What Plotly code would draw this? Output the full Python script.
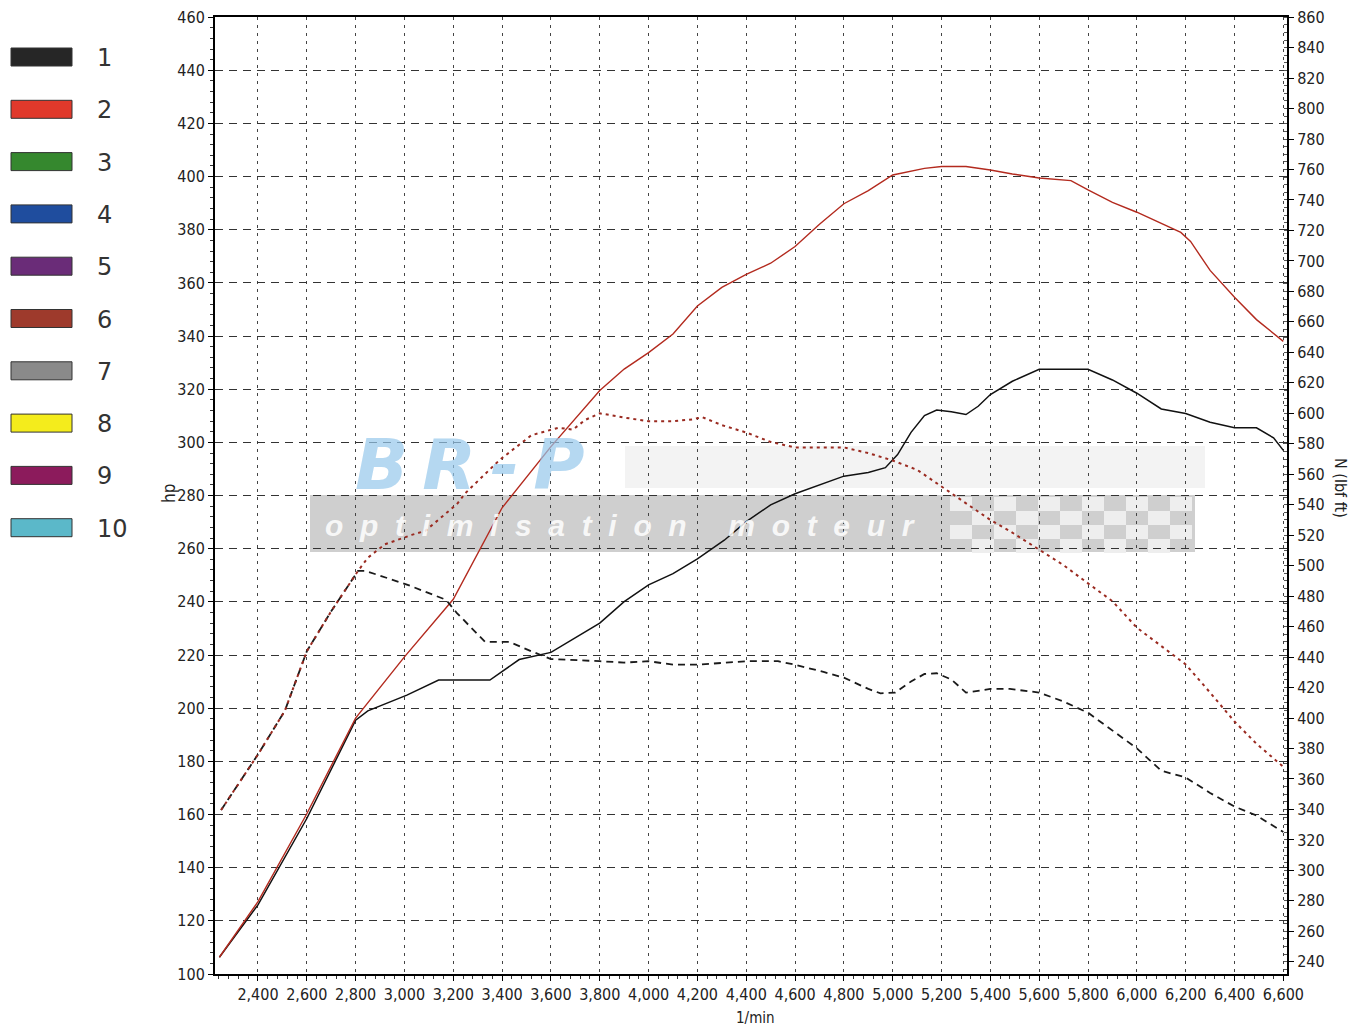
import plotly.graph_objects as go

# ---------------- data ----------------
rpm_hp_tuned = [2242, 2400, 2600, 2800, 3000, 3200, 3400, 3600, 3800, 3900, 4000, 4100, 4200, 4300, 4400,
                4500, 4600, 4700, 4800, 4900, 5000, 5130, 5200, 5300, 5400, 5490, 5600, 5730, 5800, 5900,
                6000, 6100, 6180, 6220, 6300, 6400, 6490, 6600]
hp_tuned = [106.3, 127.2, 160.3, 196.3, 219.3, 241.0, 275.4, 298.4, 319.5, 327.6, 333.8, 340.8, 351.3, 358.3, 363.2,
            367.4, 373.7, 382.1, 389.8, 394.7, 400.6, 403.1, 403.8, 403.8, 402.5, 401.0, 399.5, 398.5, 395.0, 390.3,
            386.6, 382.4, 379.0, 375.6, 364.7, 354.6, 346.2, 338.0]

rpm_hp_stock = [2242, 2400, 2600, 2800, 2850, 3010, 3140, 3350, 3470, 3600, 3800, 3900, 4000, 4100, 4200,
                4310, 4400, 4500, 4600, 4710, 4800, 4900, 4970, 5020, 5075, 5130, 5180, 5240, 5300, 5350,
                5400, 5490, 5600, 5800, 5900, 6000, 6100, 6200, 6300, 6400, 6490, 6560, 6600]
hp_stock = [106.3, 126.0, 158.5, 195.5, 199.0, 204.9, 210.6, 210.6, 218.3, 221.0, 232.0, 240.1, 246.4, 250.6, 256.2,
            263.2, 270.2, 276.5, 280.7, 284.2, 287.3, 288.7, 290.5, 295.4, 303.8, 310.1, 312.2, 311.5, 310.5, 313.6,
            318.0, 323.0, 327.5, 327.5, 323.5, 318.5, 312.6, 310.9, 307.6, 305.5, 305.5, 301.7, 297.0]

rpm_tq_stock = [2249, 2400, 2510, 2600, 2700, 2810, 2840, 3010, 3170, 3215, 3330, 3430, 3520, 3600, 3800,
                3900, 4000, 4100, 4200, 4310, 4400, 4530, 4600, 4720, 4800, 4900, 4950, 5010, 5075, 5130,
                5180, 5240, 5300, 5400, 5480, 5600, 5700, 5800, 5900, 6000, 6100, 6200, 6300, 6400, 6490, 6600]
tq_stock = [339.6, 376.1, 404.7, 443.8, 470.1, 496.6, 496.6, 487.6, 477.6, 468.9, 450.0, 450.0, 443.8, 438.7, 437.3,
            436.4, 437.3, 435.0, 435.0, 436.4, 437.3, 437.3, 435.0, 430.1, 426.5, 419.1, 416.2, 416.7, 424.0, 428.9,
            429.4, 425.3, 416.7, 419.1, 419.1, 416.7, 410.8, 403.5, 391.8, 380.1, 365.4, 361.0, 350.8, 341.9, 336.0, 325.2]

rpm_tq_tuned = [2249, 2400, 2510, 2600, 2700, 2810, 2850, 2920, 3030, 3085, 3215, 3250, 3390, 3520, 3630,
                3690, 3740, 3800, 3900, 4000, 4100, 4180, 4220, 4300, 4400, 4500, 4600, 4720, 4800, 4900,
                5000, 5100, 5200, 5290, 5400, 5480, 5600, 5700, 5800, 5900, 6000, 6110, 6200, 6300, 6400, 6490, 6600]
tq_tuned = [339.6, 376.1, 404.7, 443.8, 470.1, 496.6, 505.2, 514.0, 520.2, 522.8, 540.4, 547.7, 569.4, 585.6, 590.5,
            589.3, 595.6, 600.0, 597.2, 594.8, 594.8, 596.0, 597.5, 592.2, 587.4, 581.2, 577.6, 577.6, 577.6, 573.9,
            569.0, 562.9, 552.0, 542.2, 530.0, 522.7, 510.4, 500.3, 488.4, 476.7, 459.3, 445.9, 435.2, 416.7, 397.7, 383.1, 368.0]

x_ticks = list(range(2400, 6601, 200))
hp_ticks = list(range(100, 461, 20))
nm_ticks = list(range(240, 861, 20))

legend_labels = ["1", "2", "3", "4", "5", "6", "7", "8", "9", "10"]
legend_colors = ["#262626", "#e0392b", "#35882e", "#1f4d9e", "#6a2c78",
                 "#9e3a2c", "#8a8a8a", "#f4ec1c", "#8c1b5c", "#5bb8c9"]

# ---------------- figure ----------------
# the page body adds an 8 px offset; figure sized so the plot lands at the right pixels
OFF = 8
W, H = 1353, 1019
ML, MR, MT, MB = 207, 74, 9, 53
PW, PH = W - ML - MR, H - MT - MB
PLOT_L = OFF + ML
PLOT_B = OFF + H - MB


def px(x):
    return (x - PLOT_L) / PW


def py(y):
    return (PLOT_B - y) / PH


FONT = "Liberation Sans Narrow, DejaVu Sans Condensed, Liberation Sans, Arial"


def note(x, y, text, size, color="#222", family=FONT, angle=0, xanchor="center"):
    return dict(xref="paper", yref="paper", x=px(x), y=py(y), text=text, textangle=angle,
                xanchor=xanchor, yanchor="middle", showarrow=False,
                font=dict(family=family, size=size, color=color))


fig = go.Figure()

fig.add_trace(go.Scatter(x=rpm_tq_stock, y=tq_stock, yaxis="y2", mode="lines",
                         line=dict(color="#1a1a1a", width=1.8, dash="7px,5px"), name="tq 1"))
fig.add_trace(go.Scatter(x=rpm_tq_tuned, y=tq_tuned, yaxis="y2", mode="lines",
                         line=dict(color="#9a2a20", width=2, dash="3px,4px"), name="tq 2"))
fig.add_trace(go.Scatter(x=rpm_hp_stock, y=hp_stock, mode="lines",
                         line=dict(color="#111111", width=1.5), name="hp 1"))
fig.add_trace(go.Scatter(x=rpm_hp_tuned, y=hp_tuned, mode="lines",
                         line=dict(color="#b32a1e", width=1.4), name="hp 2"))

shapes = []
annotations = []

# watermark band
shapes.append(dict(type="rect", xref="paper", yref="paper", layer="below",
                   x0=px(310), x1=px(1195), y0=py(552), y1=py(495),
                   fillcolor="#cfcfcf", line=dict(width=0)))
# checkered flag area
cw, chh = 22, 14
for r in range(4):
    for c in range(11):
        if (r + c) % 2 == 0:
            x0 = 950 + c * cw
            y0 = 497 + r * chh
            shapes.append(dict(type="rect", xref="paper", yref="paper", layer="below",
                               x0=px(x0), x1=px(min(x0 + cw, 1195)), y0=py(y0 + chh), y1=py(y0),
                               fillcolor="#eeeeee", line=dict(width=0)))
# faint upper watermark text band
shapes.append(dict(type="rect", xref="paper", yref="paper", layer="below",
                   x0=px(625), x1=px(1205), y0=py(488), y1=py(446),
                   fillcolor="#f3f3f3", line=dict(width=0)))

annotations.append(note(470, 465, "<b><i>B\u2009R\u2009-\u2009P</i></b>", 70,
                        color="rgba(150,200,235,0.7)", family="DejaVu Sans"))
annotations.append(note(620, 525, "<b><i>o  p  t  i  m  i  s  a  t  i  o  n     m  o  t  e  u  r</i></b>", 30,
                        color="rgba(255,255,255,0.85)", family="Liberation Sans"))

# legend on the left
for i, (lab, col) in enumerate(zip(legend_labels, legend_colors)):
    yc = 57 + i * 52.3
    shapes.append(dict(type="rect", xref="paper", yref="paper",
                       x0=px(11), x1=px(72), y0=py(yc + 9), y1=py(yc - 9),
                       fillcolor=col, line=dict(color="#333333", width=1)))
    annotations.append(note(95, yc + 1, lab, 24, color="#333333", family="DejaVu Sans", xanchor="left"))

# axis titles
annotations.append(note(169, 494, "hp", 17, angle=-90))
annotations.append(note(1341, 488, "N (lbf ft)", 16, angle=90))
annotations.append(note(755, 1018, "1/min", 15))

fig.update_layout(
    width=W, height=H,
    margin=dict(l=ML, r=MR, t=MT, b=MB, autoexpand=False),
    paper_bgcolor="white", plot_bgcolor="white",
    showlegend=False,
    shapes=shapes, annotations=annotations,
    xaxis=dict(range=[2224, 6615], tickvals=x_ticks, tickformat=",d", automargin=False,
               ticklabeloverflow="allow",
               showgrid=True, gridcolor="#444444", gridwidth=1, griddash="3px,5px",
               showline=True, linecolor="black", linewidth=2, mirror=True,
               ticks="outside", ticklen=5, tickcolor="black",
               minor=dict(dtick=40, ticks="outside", ticklen=3, tickcolor="#333", showgrid=False),
               tickfont=dict(family=FONT, size=16, color="#222"), zeroline=False),
    yaxis=dict(range=[100, 460.05], tickvals=hp_ticks, automargin=False,
               ticklabeloverflow="allow",
               showgrid=True, gridcolor="#333333", gridwidth=1, griddash="8px,6px",
               showline=True, linecolor="black", linewidth=2,
               ticks="outside", ticklen=5, tickcolor="black",
               minor=dict(dtick=4, ticks="outside", ticklen=3, tickcolor="#333", showgrid=False),
               tickfont=dict(family=FONT, size=16, color="#222"), zeroline=False),
    yaxis2=dict(range=[232, 860.1], tickvals=nm_ticks, overlaying="y", side="right", automargin=False,
                ticklabeloverflow="allow",
                showgrid=False, showline=True, linecolor="black", linewidth=2,
                ticks="outside", ticklen=5, tickcolor="black",
                minor=dict(dtick=5, ticks="inside", ticklen=3, tickcolor="#555"),
                tickfont=dict(family=FONT, size=16, color="#222"), zeroline=False),
)

fig.write_html("out.html")
